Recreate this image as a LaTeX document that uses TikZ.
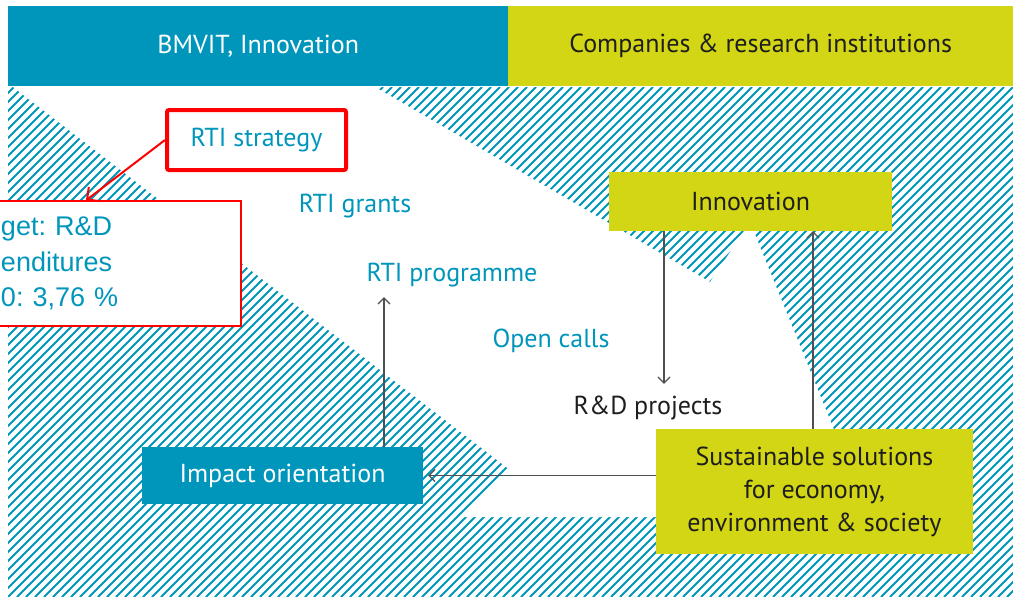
\documentclass[tikz,border=0pt]{standalone}
\usepackage{fontspec}
\setmainfont{PT Sans}
\newfontfamily\calloutfont{Liberation Sans}
\usetikzlibrary{arrows.meta}
\definecolor{bmblue}{RGB}{0,150,187}
\definecolor{bmyellow}{RGB}{211,214,20}
\definecolor{arrgray}{RGB}{80,80,80}
\definecolor{darktext}{RGB}{30,30,30}
\frenchspacing
\begin{document}
\begin{tikzpicture}[x=1pt,y=-1pt,
  lbl/.style={font=\fontsize{26}{30}\selectfont, inner sep=0pt},
  headbar/.style={fill=#1, minimum height=80pt, inner sep=0pt, anchor=north west, font=\fontsize{26}{30}\selectfont},
  filledbox/.style={fill=#1, inner sep=0pt, font=\fontsize{26}{30}\selectfont},
  hatchline/.style={draw=bmblue, line width=1.8pt},
  arr/.style={draw=arrgray, line width=1.2pt, -{Straight Barb[length=6pt,width=12pt]}},
  redarr/.style={draw=red, line width=2pt, -{Straight Barb[length=9pt,width=18pt]}},
  redbox/.style={draw=red, line width=4pt, rounded corners=2pt, fill=white, minimum width=179pt, minimum height=60pt, inner sep=0pt, text=bmblue, font=\fontsize{26}{30}\selectfont},
  calloutbox/.style={draw=red, line width=1.3pt, fill=white, minimum width=281pt, minimum height=125pt, inner xsep=0pt, inner ysep=0pt, text width=281pt, align=left, text=bmblue, font=\calloutfont\fontsize{27}{35.5}\selectfont}
]
\useasboundingbox (0,0) rectangle (1013,597);

% hatched background
\begin{scope}
  \clip (8,87) rectangle (1013,597);
  \foreach \i in {-57,...,113} {
    \draw[hatchline] (8+\i*9,597) -- ++(510,-510);
  }
\end{scope}
% white band
\fill[white] (13,87) -- (375,87) -- (710,282) -- (750,222) -- (835,432)
  -- (835,517) -- (463,517) -- (510,470) -- cycle;

% header bars
\node[headbar=bmblue, minimum width=500pt, text=white] (hleft) at (8,6) {BMVIT, Innovation};
\node[headbar=bmyellow, minimum width=505pt, text=darktext] (hright) at (508,6) {Companies \& research institutions};

% nodes
\node[redbox] (strat) at (256.5,140) {RTI strategy};
\node[calloutbox] (callout) at (100.5,263.5) {\hspace*{41pt}get: R\&D\\\hspace*{41pt}enditures\\\hspace*{41pt}0: 3,76 \%};
\node[lbl, text=bmblue] (grants) at (355,206) {RTI grants};
\node[lbl, text=bmblue] (prog) at (452,275) {RTI programme};
\node[lbl, text=bmblue] (open) at (551,341) {Open calls};
\node[lbl, text=darktext] (rd) at (648,408) {R\&D projects};
\node[filledbox=bmyellow, minimum width=283pt, minimum height=59pt, text=darktext] (innov) at (750.5,201.5) {Innovation};
\node[filledbox=bmblue, minimum width=281pt, minimum height=57pt, text=white] (impact) at (282.5,475.5) {Impact orientation};
\node[filledbox=bmyellow, minimum width=317pt, minimum height=125pt, text=darktext, align=center, font=\fontsize{26}{33}\selectfont] (sust) at (814.5,491.5) {Sustainable solutions\\for economy,\\environment \& society};

% connectors
\draw[redarr] (strat.west) -- ([xshift=-14.5pt]callout.north);
\draw[arr, shorten >=12pt] ([xshift=-86.5pt]innov.south) -- ([xshift=-86.5pt]innov.south |- rd.north);
\draw[arr] ([xshift=-1.5pt]sust.north) -- ([xshift=-1.5pt]sust.north |- innov.south);
\draw[arr, shorten >=5pt] (sust.west |- impact.east) -- (impact.east);
\draw[arr, shorten >=10pt] ([xshift=101.5pt]impact.north) -- ([xshift=101.5pt]impact.north |- prog.south);
\end{tikzpicture}
\end{document}
